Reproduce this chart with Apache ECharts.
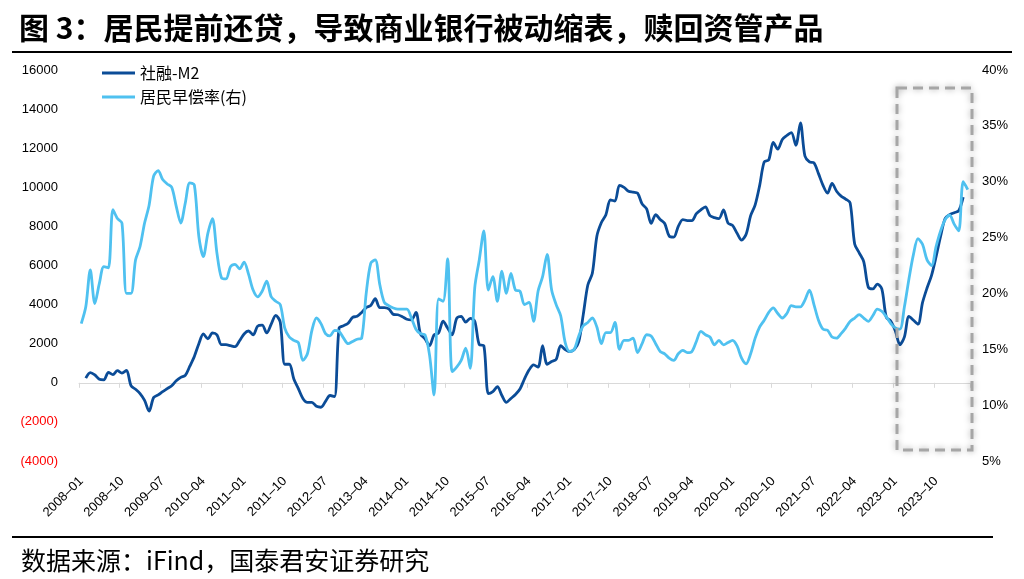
<!DOCTYPE html>
<html>
<head>
<meta charset="utf-8">
<title>居民提前还贷</title>
<script src="https://cdn.jsdelivr.net/npm/echarts@6/dist/echarts.min.js"></script>
<style>
  html, body { margin: 0; padding: 0; background: #fff; }
  #chart { width: 1024px; height: 579px; }
</style>
</head>
<body>
<div id="chart"></div>
<script>
// 月份：2008-01 ~ 2024-05
const months = []
for (let y = 2008; y <= 2024; y++) {
  for (let m = 1; m <= 12; m++) {
    if (y === 2024 && m > 5) break
    months.push(y + '–' + (m < 10 ? '0' + m : m))
  }
}

// 社融-M2（左轴）
const tsfM2 = [
  null, 240, 520, 400, 180, 150, 530, 420, 620, 500, 630, -150,
  -330, -550, -900, -1450, -750, -620, -450, -300, -150, 100, 280, 380,
  850, 1350, 2000, 2500, 2250, 2550, 2450, 1950, 1950, 1900, 1850, 2150,
  2500, 2650, 2450, 2900, 2950, 2550, 3000, 3450, 3100, 950, 950, 200,
  -300, -800, -1000, -1000, -1200, -1250, -950, -650, -700, 2800, 2920, 3050,
  3350, 3400, 3600, 3850, 3950, 4300, 3850, 3850, 3780, 3500, 3480, 3380,
  3250, 3220, 3600, 2500, 2250, 1900, 2450, 2550, 3150, 2800, 2450, 3300,
  3400, 3100, 3300, 3150, 1950, 1900, -550, -450, -200, -650, -1000, -800,
  -600, -320, 200, 650, 920, 800, 1900, 950, 1090, 1200, 1900, 1700,
  1600, 1700, 2100, 3500, 5000, 5600, 7500, 8200, 8600, 9350, 9300, 10100,
  10000, 9800, 9750, 9700, 9150, 8900, 8150, 8600, 8350, 8150, 7500, 7450,
  8000, 8350, 8300, 8300, 8650, 8850, 9000, 8550, 8450, 8400, 8850, 8170,
  8050, 7650, 7300, 7600, 8550, 9100, 10100, 11300, 11400, 12300, 11950, 12450,
  12650, 12800, 12150, 13300, 11600, 11300, 11250, 10700, 10100, 9700, 10200, 9800,
  9550, 9400, 9200, 7100, 6650, 6200, 4900, 4800, 5050, 4800, 3350, 3150,
  2650, 1950, 2350, 3400, 3200, 3000, 4100, 4850, 5500, 6450, 7500, 8400,
  8600, 8700, 8800, 9500, null
]

// 居民早偿率（右轴，%）
const prepayRate = [
  17.3, 18.8, 22.1, 19.1, 20.9, 22.4, 22.3, 27.5, 26.7, 26.3, 20.0, 20.0,
  23.0, 24.2, 26.3, 27.9, 30.5, 31.0, 30.2, 29.8, 29.5, 27.8, 26.3, 28.1,
  29.9, 29.7, 25.1, 23.3, 25.4, 26.7, 23.6, 21.4, 21.3, 22.4, 22.6, 22.2,
  22.8, 21.7, 20.3, 19.7, 20.2, 21.1, 19.7, 19.3, 19.0, 16.9, 16.1, 15.8,
  15.6, 14.0, 14.6, 16.7, 17.8, 17.3, 16.4, 16.2, 16.7, 16.6, 16.0, 15.5,
  15.7, 15.9, 16.0, 20.0, 22.7, 23.0, 20.8, 19.2, 18.9, 18.7, 18.6, 18.6,
  18.6, 17.8, 16.8, 16.4, 16.3, 14.5, 10.9, 19.5, 19.3, 23.1, 13.0, 13.4,
  14.0, 15.1, 13.3, 20.5, 23.0, 25.6, 20.3, 21.5, 19.3, 22.0, 20.0, 21.8,
  20.3, 20.2, 19.0, 19.2, 17.5, 20.2, 21.5, 23.5, 20.3, 19.0, 18.0, 15.6,
  14.8, 15.0, 16.2, 17.1, 17.4, 17.8, 17.0, 15.5, 16.5, 16.5, 17.4, 15.0,
  15.8, 15.8, 16.0, 14.7, 15.5, 16.3, 16.2, 15.5, 14.8, 14.6, 14.2, 14.0,
  14.6, 14.9, 14.7, 14.8, 15.7, 16.6, 16.3, 16.1, 15.4, 15.8, 15.4, 15.6,
  15.8, 15.3, 14.2, 13.7, 14.6, 16.0, 17.0, 17.6, 18.3, 18.7, 18.2, 17.8,
  18.2, 18.9, 18.8, 18.8, 19.4, 20.3, 19.0, 17.6, 16.8, 16.7, 16.1, 16.0,
  16.4, 16.9, 17.5, 17.8, 18.1, 17.8, 17.5, 18.0, 18.6, 18.4, 17.9, 17.3,
  16.9, 16.8, 18.8, 21.3, 23.5, 24.9, 24.4, 23.0, 22.5, 24.2, 25.6, 26.6,
  27.0, 26.2, 25.6, 30.0, 29.3
]

const seriesNames = ['社融-M2', '居民早偿率(右)']
const labelFont = 'Liberation Sans, Arial, sans-serif'
const cjkFont = 'Noto Sans CJK SC, sans-serif'

const chart = echarts.init(document.getElementById('chart'))
chart.setOption({
  animation: false,
  backgroundColor: '#fff',
  title: [{
    text: '图 3：居民提前还贷，导致商业银行被动缩表，赎回资管产品',
    left: 14,
    top: 8,
    textStyle: { fontFamily: cjkFont, fontSize: 30, fontWeight: 'bold', color: '#000' }
  }, {
    text: '数据来源：iFind，国泰君安证券研究',
    left: 16,
    top: 543,
    textStyle: { fontFamily: cjkFont, fontSize: 25, fontWeight: 'normal', color: '#000' }
  }],
  graphic: [
    { type: 'line', shape: { x1: 12, y1: 52, x2: 1012, y2: 52 }, style: { stroke: '#000', lineWidth: 2 } },
    { type: 'line', shape: { x1: 12, y1: 537, x2: 993, y2: 537 }, style: { stroke: '#000', lineWidth: 2 } },
    // 虚线框
    {
      type: 'rect',
      shape: { x: 897, y: 88, width: 75, height: 362 },
      style: {
        fill: 'none', stroke: '#A6A6A6', lineWidth: 3, lineDash: [10, 6],
        shadowBlur: 6, shadowColor: 'rgba(0,0,0,0.35)'
      },
      z: 10
    }
  ],
  legend: {
    data: seriesNames,
    orient: 'vertical',
    left: 97,
    top: 60,
    itemGap: 8,
    itemWidth: 33,
    itemHeight: 3,
    icon: 'rect',
    textStyle: { fontFamily: cjkFont, fontSize: 16, color: '#000' }
  },
  grid: { left: 79, right: 54, top: 70, bottom: 118, containLabel: false },
  xAxis: [{
    type: 'category',
    data: months,
    boundaryGap: true,
    position: 'bottom',
    axisLine: { onZero: true, onZeroAxisIndex: 0, lineStyle: { color: '#D9D9D9', width: 1 } },
    axisTick: { show: true, interval: 8, length: 5, lineStyle: { color: '#D9D9D9' } },
    axisLabel: { show: false },
    splitLine: { show: false }
  }, {
    type: 'category',
    data: months,
    boundaryGap: true,
    position: 'bottom',
    axisLine: { show: false, onZero: false },
    axisTick: { show: false },
    axisLabel: {
      interval: 8,
      rotate: 45,
      margin: 18,
      fontFamily: labelFont,
      fontSize: 13,
      color: '#000'
    },
    splitLine: { show: false }
  }],
  yAxis: [{
    type: 'value',
    min: -4000,
    max: 16000,
    interval: 2000,
    axisLine: { show: false },
    axisTick: { show: false },
    splitLine: { show: false },
    axisLabel: {
      margin: 21,
      fontFamily: labelFont,
      fontSize: 13,
      formatter: function (v) { return v < 0 ? '(' + (-v) + ')' : v },
      color: function (v) { return Number(v) < 0 ? '#FF0000' : '#000' }
    }
  }, {
    type: 'value',
    min: 5,
    max: 40,
    interval: 5,
    axisLine: { show: false },
    axisTick: { show: false },
    splitLine: { show: false },
    axisLabel: {
      margin: 12,
      fontFamily: labelFont,
      fontSize: 13,
      color: '#000',
      formatter: '{value}%'
    }
  }],
  series: [{
    name: seriesNames[0],
    type: 'line',
    xAxisIndex: 0,
    yAxisIndex: 0,
    data: tsfM2,
    smooth: 0.3,
    symbol: 'none',
    itemStyle: { color: '#0B4C97' },
    lineStyle: { color: '#0B4C97', width: 2.8 }
  }, {
    name: seriesNames[1],
    type: 'line',
    xAxisIndex: 0,
    yAxisIndex: 1,
    data: prepayRate,
    smooth: 0.3,
    symbol: 'none',
    itemStyle: { color: '#4FC1F0' },
    lineStyle: { color: '#4FC1F0', width: 2.8 }
  }]
})
</script>
</body>
</html>
